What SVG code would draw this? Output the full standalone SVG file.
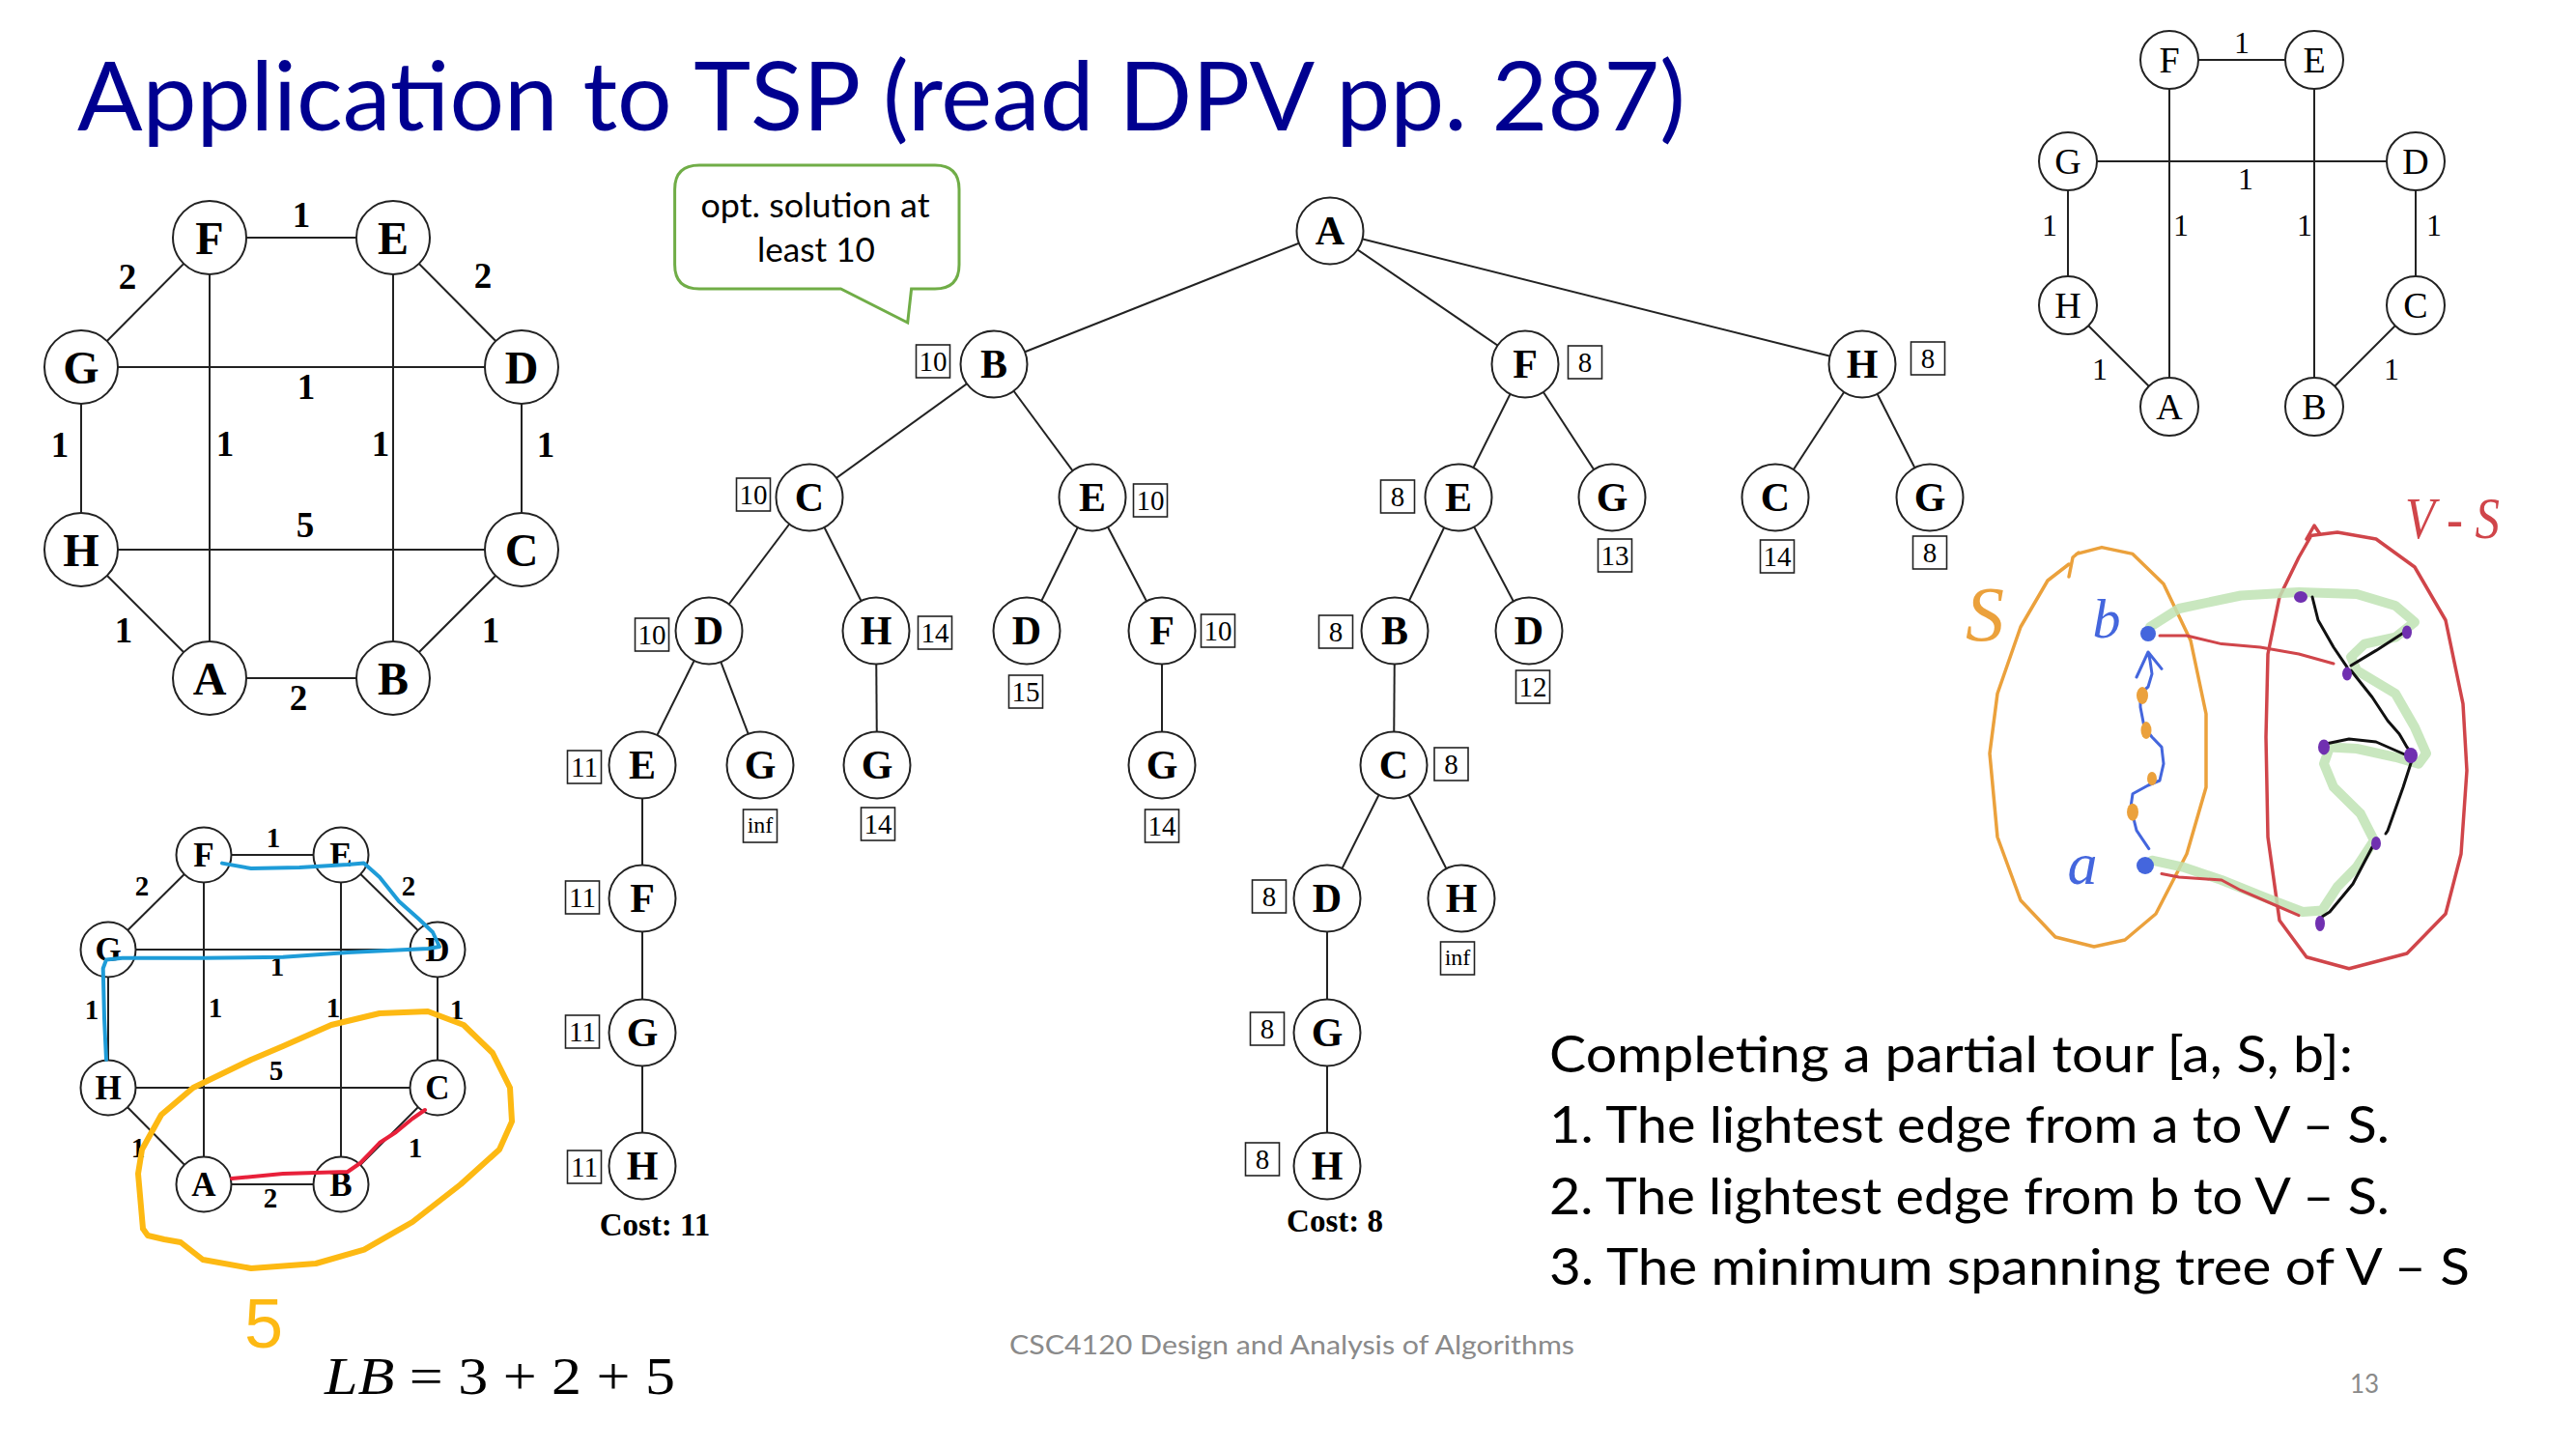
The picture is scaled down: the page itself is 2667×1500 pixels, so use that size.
<svg xmlns="http://www.w3.org/2000/svg" width="2667" height="1500" viewBox="0 0 2667 1500">
<style>
.e{stroke:#222;stroke-width:2;fill:none}
.n{fill:#fff;stroke:#222;stroke-width:2}
.lb{font-family:"Liberation Serif",serif;font-weight:bold;text-anchor:middle;fill:#000}
.l1{font-size:48px}
.w1{font-size:37px}
.lt{font-size:42px}
.l3{font-size:35px}
.w3{font-size:29px}
.rg{font-family:"Liberation Serif",serif;text-anchor:middle;fill:#000}
.l2{font-size:38px}
.w2{font-size:32px}
.bx{fill:#fff;stroke:#222;stroke-width:1.6}
.bt{font-family:"Liberation Serif",serif;font-size:29px;text-anchor:middle;fill:#000}
.bi{font-family:"Liberation Serif",serif;font-size:24px;text-anchor:middle;fill:#000}
.cal{font-family:Lato,"Open Sans",sans-serif;fill:#000}
.ink{fill:none;stroke-linecap:round;stroke-linejoin:round}
</style>

<text x="80" y="135" class="cal" font-size="98" style="fill:#000090" textLength="1665" lengthAdjust="spacingAndGlyphs">Application to TSP (read DPV pp. 287)</text>

<!-- Top-left graph -->
<g id="graph1-edges" class="e">
<line x1="217" y1="246" x2="407" y2="246"/>
<line x1="84" y1="380" x2="217" y2="246"/>
<line x1="407" y1="246" x2="540" y2="380"/>
<line x1="84" y1="380" x2="540" y2="380"/>
<line x1="217" y1="246" x2="217" y2="702"/>
<line x1="407" y1="246" x2="407" y2="702"/>
<line x1="84" y1="380" x2="84" y2="569"/>
<line x1="540" y1="380" x2="540" y2="569"/>
<line x1="84" y1="569" x2="540" y2="569"/>
<line x1="84" y1="569" x2="217" y2="702"/>
<line x1="540" y1="569" x2="407" y2="702"/>
<line x1="217" y1="702" x2="407" y2="702"/>
</g>
<g id="graph1-weights" class="lb w1">
<text x="312" y="235">1</text><text x="132" y="299">2</text><text x="500" y="298">2</text>
<text x="317" y="413">1</text><text x="62" y="473">1</text><text x="233" y="472">1</text>
<text x="394" y="472">1</text><text x="565" y="473">1</text><text x="316" y="556">5</text>
<text x="128" y="665">1</text><text x="508" y="665">1</text><text x="309" y="735">2</text>
</g>
<g id="g1-F"><circle class="n" cx="217" cy="246" r="38"/><text class="lb l1" x="217" y="262.5">F</text></g>
<g id="g1-E"><circle class="n" cx="407" cy="246" r="38"/><text class="lb l1" x="407" y="262.5">E</text></g>
<g id="g1-G"><circle class="n" cx="84" cy="380" r="38"/><text class="lb l1" x="84" y="396.5">G</text></g>
<g id="g1-D"><circle class="n" cx="540" cy="380" r="38"/><text class="lb l1" x="540" y="396.5">D</text></g>
<g id="g1-H"><circle class="n" cx="84" cy="569" r="38"/><text class="lb l1" x="84" y="585.5">H</text></g>
<g id="g1-C"><circle class="n" cx="540" cy="569" r="38"/><text class="lb l1" x="540" y="585.5">C</text></g>
<g id="g1-A"><circle class="n" cx="217" cy="702" r="38"/><text class="lb l1" x="217" y="718.5">A</text></g>
<g id="g1-B"><circle class="n" cx="407" cy="702" r="38"/><text class="lb l1" x="407" y="718.5">B</text></g>

<!-- Callout -->
<g id="callout">
<path d="M724,171 H968 Q993,171 993,196 V274 Q993,299 968,299 H943.6 L939.7,334 L870.5,299 H724 Q698.6,299 698.6,274 V196 Q698.6,171 724,171 Z" fill="#fff" stroke="#70AD47" stroke-width="3"/>
<text class="cal" x="844" y="225" font-size="34" text-anchor="middle" textLength="237" lengthAdjust="spacingAndGlyphs">opt. solution at</text>
<text class="cal" x="845" y="271" font-size="34" text-anchor="middle" textLength="122" lengthAdjust="spacingAndGlyphs">least 10</text>
</g>

<!-- Tree connectors -->
<g id="tree-edges" class="e">
<line x1="1377" y1="239" x2="1029" y2="377"/>
<line x1="1377" y1="239" x2="1579" y2="377"/>
<line x1="1377" y1="239" x2="1928" y2="377"/>
<line x1="1029" y1="377" x2="838" y2="515"/>
<line x1="1029" y1="377" x2="1131" y2="515"/>
<line x1="838" y1="515" x2="734" y2="653"/>
<line x1="838" y1="515" x2="907" y2="653"/>
<line x1="1131" y1="515" x2="1063" y2="653"/>
<line x1="1131" y1="515" x2="1203" y2="653"/>
<line x1="734" y1="653" x2="665" y2="792"/>
<line x1="734" y1="653" x2="787" y2="792"/>
<line x1="907" y1="653" x2="908" y2="792"/>
<line x1="1203" y1="653" x2="1203" y2="792"/>
<line x1="665" y1="792" x2="665" y2="930"/>
<line x1="665" y1="930" x2="665" y2="1069"/>
<line x1="665" y1="1069" x2="665" y2="1207"/>
<line x1="1579" y1="377" x2="1510" y2="515"/>
<line x1="1579" y1="377" x2="1669" y2="515"/>
<line x1="1928" y1="377" x2="1838" y2="515"/>
<line x1="1928" y1="377" x2="1998" y2="515"/>
<line x1="1510" y1="515" x2="1444" y2="653"/>
<line x1="1510" y1="515" x2="1583" y2="653"/>
<line x1="1444" y1="653" x2="1443" y2="792"/>
<line x1="1443" y1="792" x2="1374" y2="930"/>
<line x1="1443" y1="792" x2="1513" y2="930"/>
<line x1="1374" y1="930" x2="1374" y2="1069"/>
<line x1="1374" y1="1069" x2="1374" y2="1207"/>
</g>

<!-- Tree nodes -->
<g id="t-A"><circle class="n" cx="1377" cy="239" r="34.5"/><text class="lb lt" x="1377" y="253">A</text></g>
<g id="t-B"><circle class="n" cx="1029" cy="377" r="34.5"/><text class="lb lt" x="1029" y="391">B</text><rect class="bx" x="948.5" y="357" width="35" height="34"/><text class="bt" x="966" y="384">10</text></g>
<g id="t-F1"><circle class="n" cx="1579" cy="377" r="34.5"/><text class="lb lt" x="1579" y="391">F</text><rect class="bx" x="1623.5" y="358" width="35" height="34"/><text class="bt" x="1641" y="385">8</text></g>
<g id="t-H1"><circle class="n" cx="1928" cy="377" r="34.5"/><text class="lb lt" x="1928" y="391">H</text><rect class="bx" x="1978.5" y="354" width="35" height="34"/><text class="bt" x="1996" y="381">8</text></g>
<g id="t-C2"><circle class="n" cx="838" cy="515" r="34.5"/><text class="lb lt" x="838" y="529">C</text><rect class="bx" x="762.5" y="495" width="35" height="34"/><text class="bt" x="780" y="522">10</text></g>
<g id="t-E2"><circle class="n" cx="1131" cy="515" r="34.5"/><text class="lb lt" x="1131" y="529">E</text><rect class="bx" x="1173.5" y="501" width="35" height="34"/><text class="bt" x="1191" y="528">10</text></g>
<g id="t-E2b"><circle class="n" cx="1510" cy="515" r="34.5"/><text class="lb lt" x="1510" y="529">E</text><rect class="bx" x="1429.5" y="497" width="35" height="34"/><text class="bt" x="1447" y="524">8</text></g>
<g id="t-G2"><circle class="n" cx="1669" cy="515" r="34.5"/><text class="lb lt" x="1669" y="529">G</text><rect class="bx" x="1654.5" y="558" width="35" height="34"/><text class="bt" x="1672" y="585">13</text></g>
<g id="t-C2b"><circle class="n" cx="1838" cy="515" r="34.5"/><text class="lb lt" x="1838" y="529">C</text><rect class="bx" x="1822.5" y="559" width="35" height="34"/><text class="bt" x="1840" y="586">14</text></g>
<g id="t-G2b"><circle class="n" cx="1998" cy="515" r="34.5"/><text class="lb lt" x="1998" y="529">G</text><rect class="bx" x="1980.5" y="555" width="35" height="34"/><text class="bt" x="1998" y="582">8</text></g>
<g id="t-D3"><circle class="n" cx="734" cy="653" r="34.5"/><text class="lb lt" x="734" y="667">D</text><rect class="bx" x="657.5" y="640" width="35" height="34"/><text class="bt" x="675" y="667">10</text></g>
<g id="t-H3"><circle class="n" cx="907" cy="653" r="34.5"/><text class="lb lt" x="907" y="667">H</text><rect class="bx" x="950.5" y="638" width="35" height="34"/><text class="bt" x="968" y="665">14</text></g>
<g id="t-D3b"><circle class="n" cx="1063" cy="653" r="34.5"/><text class="lb lt" x="1063" y="667">D</text><rect class="bx" x="1044.5" y="699" width="35" height="34"/><text class="bt" x="1062" y="726">15</text></g>
<g id="t-F3"><circle class="n" cx="1203" cy="653" r="34.5"/><text class="lb lt" x="1203" y="667">F</text><rect class="bx" x="1243.5" y="636" width="35" height="34"/><text class="bt" x="1261" y="663">10</text></g>
<g id="t-B3"><circle class="n" cx="1444" cy="653" r="34.5"/><text class="lb lt" x="1444" y="667">B</text><rect class="bx" x="1365.5" y="637" width="35" height="34"/><text class="bt" x="1383" y="664">8</text></g>
<g id="t-D3c"><circle class="n" cx="1583" cy="653" r="34.5"/><text class="lb lt" x="1583" y="667">D</text><rect class="bx" x="1569.5" y="694" width="35" height="34"/><text class="bt" x="1587" y="721">12</text></g>
<g id="t-E4"><circle class="n" cx="665" cy="792" r="34.5"/><text class="lb lt" x="665" y="806">E</text><rect class="bx" x="587.5" y="777" width="35" height="34"/><text class="bt" x="605" y="804">11</text></g>
<g id="t-G4"><circle class="n" cx="787" cy="792" r="34.5"/><text class="lb lt" x="787" y="806">G</text><rect class="bx" x="769.5" y="838" width="35" height="34"/><text class="bi" x="787" y="862">inf</text></g>
<g id="t-G4b"><circle class="n" cx="908" cy="792" r="34.5"/><text class="lb lt" x="908" y="806">G</text><rect class="bx" x="891.5" y="836" width="35" height="34"/><text class="bt" x="909" y="863">14</text></g>
<g id="t-G4c"><circle class="n" cx="1203" cy="792" r="34.5"/><text class="lb lt" x="1203" y="806">G</text><rect class="bx" x="1185.5" y="838" width="35" height="34"/><text class="bt" x="1203" y="865">14</text></g>
<g id="t-C4"><circle class="n" cx="1443" cy="792" r="34.5"/><text class="lb lt" x="1443" y="806">C</text><rect class="bx" x="1485" y="774" width="35" height="34"/><text class="bt" x="1502.5" y="801">8</text></g>
<g id="t-F5"><circle class="n" cx="665" cy="930" r="34.5"/><text class="lb lt" x="665" y="944">F</text><rect class="bx" x="585.5" y="912" width="35" height="34"/><text class="bt" x="603" y="939">11</text></g>
<g id="t-D5"><circle class="n" cx="1374" cy="930" r="34.5"/><text class="lb lt" x="1374" y="944">D</text><rect class="bx" x="1296.5" y="911" width="35" height="34"/><text class="bt" x="1314" y="938">8</text></g>
<g id="t-H5"><circle class="n" cx="1513" cy="930" r="34.5"/><text class="lb lt" x="1513" y="944">H</text><rect class="bx" x="1491.5" y="975" width="35" height="34"/><text class="bi" x="1509" y="999">inf</text></g>
<g id="t-G6"><circle class="n" cx="665" cy="1069" r="34.5"/><text class="lb lt" x="665" y="1083">G</text><rect class="bx" x="585.5" y="1051" width="35" height="34"/><text class="bt" x="603" y="1078">11</text></g>
<g id="t-G6b"><circle class="n" cx="1374" cy="1069" r="34.5"/><text class="lb lt" x="1374" y="1083">G</text><rect class="bx" x="1294.5" y="1048" width="35" height="34"/><text class="bt" x="1312" y="1075">8</text></g>
<g id="t-H7"><circle class="n" cx="665" cy="1207" r="34.5"/><text class="lb lt" x="665" y="1221">H</text><rect class="bx" x="587.5" y="1191" width="35" height="34"/><text class="bt" x="605" y="1218">11</text></g>
<g id="t-H7b"><circle class="n" cx="1374" cy="1207" r="34.5"/><text class="lb lt" x="1374" y="1221">H</text><rect class="bx" x="1289.5" y="1183" width="35" height="34"/><text class="bt" x="1307" y="1210">8</text></g>
<text class="lb" font-size="33" x="678" y="1279">Cost: 11</text>
<text class="lb" font-size="33" x="1382" y="1275">Cost: 8</text>

<!-- Top-right graph -->
<g id="graph2-edges" class="e">
<line x1="2246" y1="62" x2="2396" y2="62"/>
<line x1="2246" y1="62" x2="2246" y2="421"/>
<line x1="2396" y1="62" x2="2396" y2="421"/>
<line x1="2141" y1="167" x2="2501" y2="167"/>
<line x1="2141" y1="167" x2="2141" y2="316"/>
<line x1="2501" y1="167" x2="2501" y2="316"/>
<line x1="2141" y1="316" x2="2246" y2="421"/>
<line x1="2501" y1="316" x2="2396" y2="421"/>
</g>
<g id="graph2-weights" class="rg w2">
<text x="2321" y="55">1</text><text x="2325" y="196">1</text><text x="2122" y="244">1</text>
<text x="2258" y="244">1</text><text x="2386" y="244">1</text><text x="2520" y="244">1</text>
<text x="2174" y="393">1</text><text x="2476" y="393">1</text>
</g>
<g id="g2-F"><circle class="n" cx="2246" cy="62" r="30"/><text class="rg l2" x="2246" y="75">F</text></g>
<g id="g2-E"><circle class="n" cx="2396" cy="62" r="30"/><text class="rg l2" x="2396" y="75">E</text></g>
<g id="g2-G"><circle class="n" cx="2141" cy="167" r="30"/><text class="rg l2" x="2141" y="180">G</text></g>
<g id="g2-D"><circle class="n" cx="2501" cy="167" r="30"/><text class="rg l2" x="2501" y="180">D</text></g>
<g id="g2-H"><circle class="n" cx="2141" cy="316" r="30"/><text class="rg l2" x="2141" y="329">H</text></g>
<g id="g2-C"><circle class="n" cx="2501" cy="316" r="30"/><text class="rg l2" x="2501" y="329">C</text></g>
<g id="g2-A"><circle class="n" cx="2246" cy="421" r="30"/><text class="rg l2" x="2246" y="434">A</text></g>
<g id="g2-B"><circle class="n" cx="2396" cy="421" r="30"/><text class="rg l2" x="2396" y="434">B</text></g>

<!-- Bottom-left graph -->
<g id="graph3-edges" class="e">
<line x1="211" y1="885" x2="353" y2="885"/>
<line x1="112" y1="983" x2="211" y2="885"/>
<line x1="353" y1="885" x2="453" y2="983"/>
<line x1="112" y1="983" x2="453" y2="983"/>
<line x1="211" y1="885" x2="211" y2="1226"/>
<line x1="353" y1="885" x2="353" y2="1226"/>
<line x1="112" y1="983" x2="112" y2="1126"/>
<line x1="453" y1="983" x2="453" y2="1126"/>
<line x1="112" y1="1126" x2="453" y2="1126"/>
<line x1="112" y1="1126" x2="211" y2="1226"/>
<line x1="453" y1="1126" x2="353" y2="1226"/>
<line x1="211" y1="1226" x2="353" y2="1226"/>
</g>
<g id="graph3-weights" class="lb w3">
<text x="283" y="877">1</text><text x="147" y="927">2</text><text x="423" y="927">2</text>
<text x="287" y="1010">1</text><text x="95" y="1055">1</text><text x="223" y="1053">1</text>
<text x="345" y="1053">1</text><text x="473" y="1055">1</text><text x="286" y="1118">5</text>
<text x="143" y="1198">1</text><text x="430" y="1198">1</text><text x="280" y="1250">2</text>
</g>
<g id="g3-F"><circle class="n" cx="211" cy="885" r="28.5"/><text class="lb l3" x="211" y="897">F</text></g>
<g id="g3-E"><circle class="n" cx="353" cy="885" r="28.5"/><text class="lb l3" x="353" y="897">E</text></g>
<g id="g3-G"><circle class="n" cx="112" cy="983" r="28.5"/><text class="lb l3" x="112" y="995">G</text></g>
<g id="g3-D"><circle class="n" cx="453" cy="983" r="28.5"/><text class="lb l3" x="453" y="995">D</text></g>
<g id="g3-H"><circle class="n" cx="112" cy="1126" r="28.5"/><text class="lb l3" x="112" y="1138">H</text></g>
<g id="g3-C"><circle class="n" cx="453" cy="1126" r="28.5"/><text class="lb l3" x="453" y="1138">C</text></g>
<g id="g3-A"><circle class="n" cx="211" cy="1226" r="28.5"/><text class="lb l3" x="211" y="1238">A</text></g>
<g id="g3-B"><circle class="n" cx="353" cy="1226" r="28.5"/><text class="lb l3" x="353" y="1238">B</text></g>

<!-- Bottom-left ink annotations -->
<g id="ink-left" class="ink">
<path stroke="#1E9CD8" stroke-width="4" d="M230,893.6 L260,899 L310,898 L360,895 L376.7,893.6 L393,908 L413,933 L433,950.7 L448,965 L455,980 L443,982 L360,986 L293,990.7 L210,991.8 L126.7,991.8 L110,993.6 L106.7,1002.5 L108,1054 L110,1097"/>
<path stroke="#E8203A" stroke-width="4" d="M240,1220 L293,1215 L360,1213 L373,1204 L383,1193.6 L393,1183 L410,1172 L427,1158 L440,1149"/>
<path stroke="#FDB913" stroke-width="6" d="M148,1272 L143,1215 L147,1190 L167,1154 L200,1126 L260,1097 L293,1083 L343,1061 L393,1049 L443,1047 L480,1061 L510,1090 L528,1126 L530,1161 L517,1190 L477,1226 L427,1265 L377,1293.6 L327,1308 L260,1313 L210,1304 L187,1286 L170,1283 L153,1279 L148,1272"/>
<text x="273" y="1395" font-family="'Liberation Sans',sans-serif" font-size="72" fill="#FDB913" text-anchor="middle">5</text>
</g>

<text x="336" y="1443" font-family="'Liberation Serif',serif" font-size="54" fill="#000" textLength="363" lengthAdjust="spacingAndGlyphs"><tspan font-style="italic">LB</tspan> = 3 + 2 + 5</text>

<!-- Right sketch -->
<g id="sketch" class="ink">
<path stroke="#EBA13C" stroke-width="3.5" d="M2150,573.4 L2176,566.6 L2208,573.4 L2240,604.5 L2268,663 L2284,739 L2284,815 L2264,884 L2232,946 L2200,973 L2168,980 L2128,970 L2092,932 L2068,866.5 L2060,780 L2068,718 L2092,649 L2120,601 L2142,584 M2142,597 L2146,577 L2152,572"/>
<path stroke="#D0454A" stroke-width="3.5" d="M2392,554.5 L2420,551 L2460,558 L2500,587 L2532,642 L2550,728.6 L2554,797.6 L2548,884 L2532,946 L2492,987 L2432,1002.8 L2388,990.7 L2360,952.8 L2348,866.5 L2346,763 L2348,677 L2360,618 L2380,577 L2392,556 M2388,558 L2396,544 L2402,553"/>
<path stroke="#BFE3B4" stroke-width="10" stroke-opacity="0.85" d="M2226,649 L2256,630 L2320,616.5 L2380,613 L2440,615 L2480,627 L2500,644 L2480,659.7 L2448,666.6 L2434,680 L2440,694 L2480,718 L2500,752.8 L2512,780 L2504,790.7 L2480,783.8 L2440,775 L2412,773.4 L2406,790.7 L2416,814.8 L2444,842.4 L2458,870 L2440,897.6 L2420,918 L2404,942.4 L2384,944 L2344,928.6 L2300,911 L2260,897.6 L2228,890.7"/>
<path stroke="#D0454A" stroke-width="3" d="M2236,658 L2264,658 L2300,666.6 L2340,670 L2380,677 L2416,687"/>
<path stroke="#D0454A" stroke-width="3" d="M2238,904.5 L2256,908 L2300,911 L2320,921.7 L2352,935.5 L2380,947.6"/>
<path stroke="#4466DD" stroke-width="3" d="M2224.8,878.6 L2212,859.7 L2206,835.5 L2208,821.7 L2224,813 L2236,808 L2240,790.7 L2238,773.4 L2228,763 L2220,752.8 L2216,732 L2216,718 L2224,711 L2228,697.6 L2226,684 L2224,675 M2212,701 L2224,675 L2238,692.4"/>
<circle cx="2224" cy="656" r="8" fill="#4466DD"/>
<circle cx="2221" cy="896" r="9" fill="#4466DD"/>
<ellipse cx="2218" cy="720" rx="6" ry="9" fill="#EBA13C"/>
<ellipse cx="2222" cy="756" rx="5.5" ry="9" fill="#EBA13C"/>
<ellipse cx="2228" cy="806" rx="5" ry="7" fill="#EBA13C"/>
<ellipse cx="2208" cy="840.7" rx="6" ry="9" fill="#EBA13C"/>
<path stroke="#111" stroke-width="3" d="M2430,690.7 L2416,670 L2400,642 L2394,618"/>
<path stroke="#111" stroke-width="3" d="M2434,689 L2460,673.4 L2492,652.8"/>
<path stroke="#111" stroke-width="3" d="M2434,694 L2456,721.7 L2472,746 L2484,759.7 L2492,773.4 L2498,782"/>
<path stroke="#111" stroke-width="3" d="M2408,770 L2432,765 L2460,768 L2492,782"/>
<path stroke="#111" stroke-width="3" d="M2498,784 L2488,815 L2472,860 L2470,863"/>
<path stroke="#111" stroke-width="3" d="M2456,877 L2436,915 L2412,944 L2404,949"/>
<g fill="#7030B0">
<ellipse cx="2382" cy="618" rx="7" ry="6"/>
<ellipse cx="2492" cy="654.5" rx="5" ry="7"/>
<ellipse cx="2430" cy="697.6" rx="5" ry="7"/>
<ellipse cx="2406" cy="773.4" rx="6" ry="8"/>
<ellipse cx="2496" cy="782" rx="7" ry="8"/>
<ellipse cx="2460" cy="873" rx="5" ry="7"/>
<ellipse cx="2402" cy="956" rx="5" ry="8"/>
</g>
<text x="2181" y="660" font-family="'Liberation Serif',serif" font-style="italic" font-size="58" fill="#4466DD" text-anchor="middle">b</text>
<text x="2156" y="915" font-family="'Liberation Serif',serif" font-style="italic" font-size="62" fill="#4466DD" text-anchor="middle">a</text>
<text x="2055" y="663" font-family="'Liberation Serif',serif" font-style="italic" font-size="80" fill="#EBA13C" text-anchor="middle">S</text>
<text x="2490" y="557" font-family="'Liberation Serif',serif" font-style="italic" font-size="62" fill="#D0454A" textLength="98" lengthAdjust="spacingAndGlyphs">V - S</text>
</g>

<!-- Right text block -->
<g id="text-block" class="cal" font-size="53">
<text x="1604" y="1110" textLength="832" lengthAdjust="spacingAndGlyphs">Completing a partial tour [a, S, b]:</text>
<text x="1604" y="1183" textLength="870" lengthAdjust="spacingAndGlyphs">1. The lightest edge from a to V – S.</text>
<text x="1604" y="1257" textLength="870" lengthAdjust="spacingAndGlyphs">2. The lightest edge from b to V – S.</text>
<text x="1604" y="1330" textLength="953" lengthAdjust="spacingAndGlyphs">3. The minimum spanning tree of V – S</text>
</g>

<text x="1045" y="1402" class="cal" font-size="26" style="fill:#8A8A8A" textLength="585" lengthAdjust="spacingAndGlyphs">CSC4120 Design and Analysis of Algorithms</text>
<text x="2433" y="1442" class="cal" font-size="26" style="fill:#8A8A8A">13</text>
</svg>
